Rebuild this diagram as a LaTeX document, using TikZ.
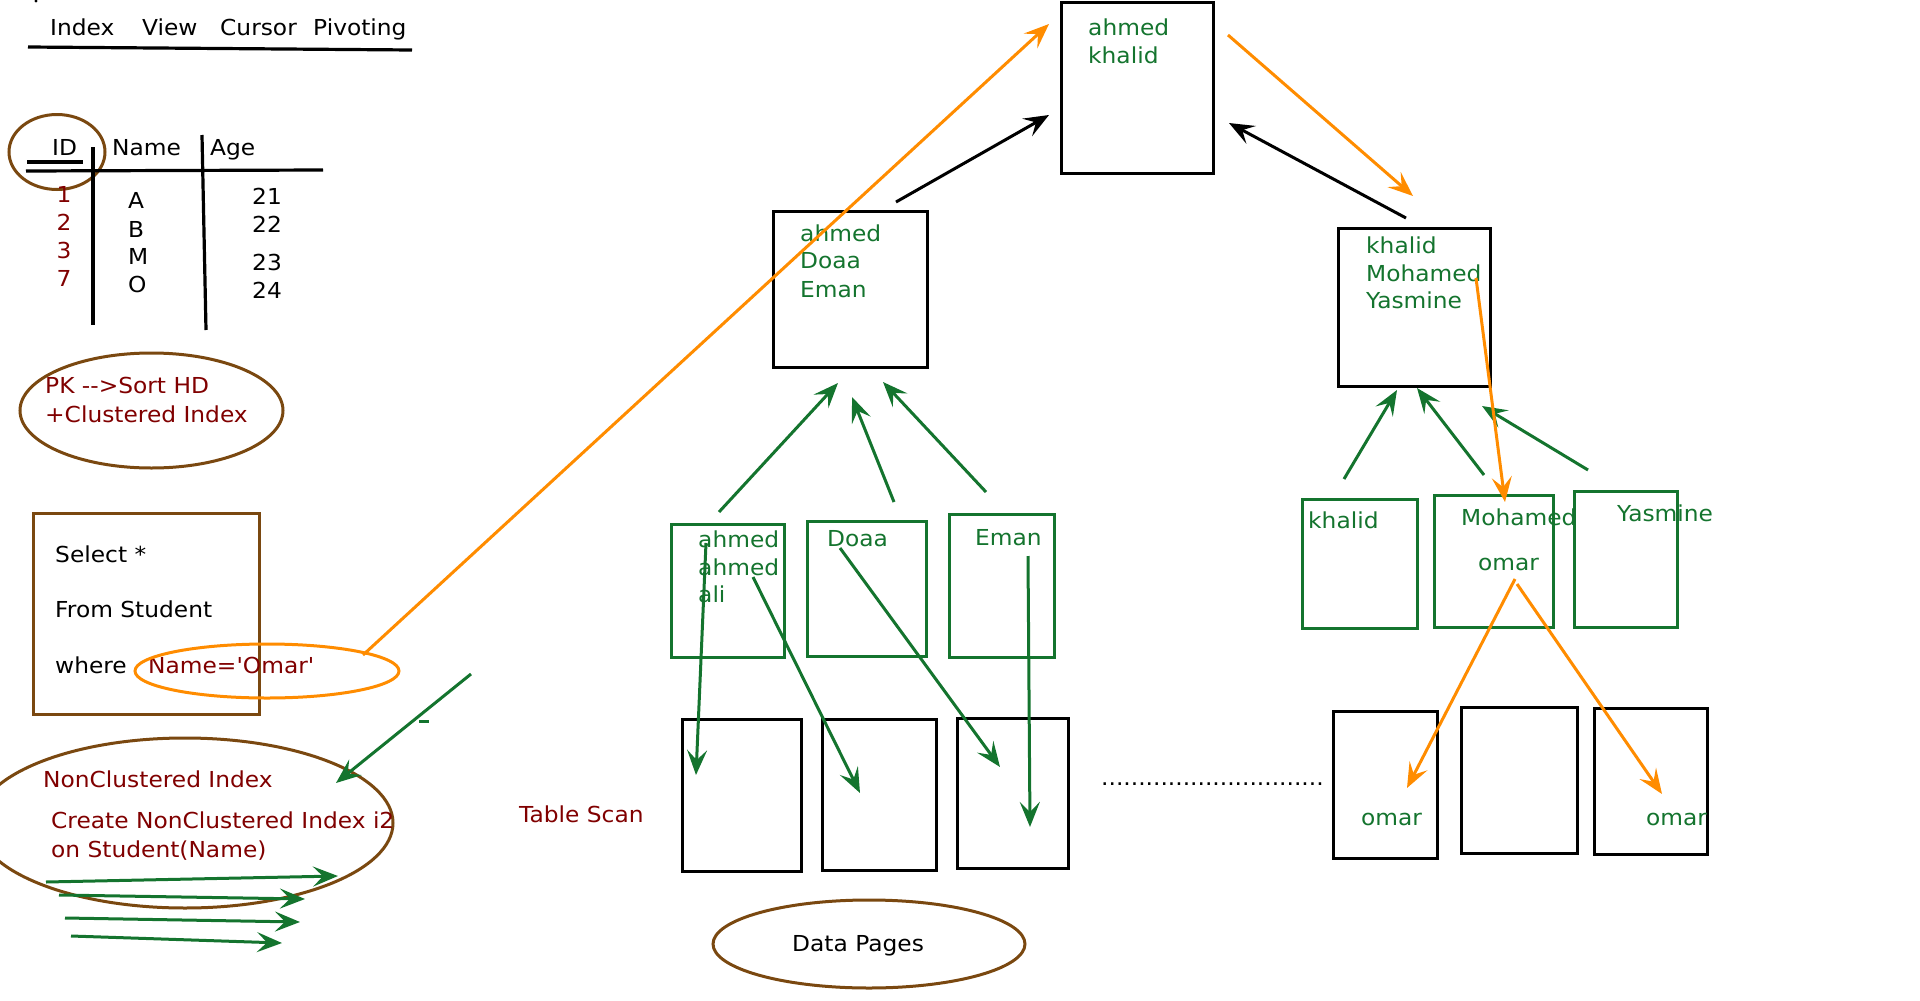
\documentclass[tikz,border=0pt]{standalone}
\usepackage{fontspec}
\newfontfamily\dejavu{DejaVu Sans}[FakeStretch=1.06]
\usetikzlibrary{arrows.meta,shapes.geometric}

\definecolor{leafgreen}{RGB}{20,116,46}
\definecolor{hiorange}{RGB}{255,140,0}
\definecolor{darkred}{RGB}{128,0,0}
\definecolor{bark}{RGB}{122,72,16}

\tikzset{
  lbl/.style={anchor=base west, inner sep=0pt, font=\dejavu\fontsize{22}{26}\selectfont},
  clbl/.style={lbl, anchor=base},
  blackbox/.style={draw=black, line width=3pt, inner sep=0pt},
  greenbox/.style={draw=leafgreen, line width=3pt, inner sep=0pt},
  ring/.style={ellipse, draw=bark, line width=3pt, inner sep=0pt},
  tip/.style={-{Stealth[length=25pt,width=20pt,inset=10pt]}},
  garrow/.style={tip, draw=leafgreen, fill=leafgreen, line width=3pt},
  oarrow/.style={tip, draw=hiorange, fill=hiorange, line width=3pt},
  karrow/.style={tip, draw=black, fill=black, line width=3pt},
  rule/.style={draw=black, line width=3.2pt}
}

\begin{document}
\begin{tikzpicture}[x=1pt,y=-1pt]
\useasboundingbox (0,0) rectangle (1920,1001);

% ---------- menu bar ----------
\fill (36,1) circle (1.6);
\node[lbl] (mIndex) at (50,35) {Index};
\node[lbl] (mView) at (142,35) {View};
\node[lbl] (mCursor) at (220,35) {Cursor};
\node[lbl] (mPivot) at (313,35) {Pivoting};
\coordinate (menuL) at (28,47);
\coordinate (menuR) at (412,50);
\draw[rule] (menuL) -- (menuR);

% ---------- Student table ----------
\node[ring, minimum width=96, minimum height=75] (idring) at (57,152) {};
\node[lbl] (hID) at (52,155) {ID};
\node[lbl] (hName) at (112,155) {Name};
\node[lbl] (hAge) at (210,155) {Age};
\coordinate (idU1) at (27,162); \coordinate (idU2) at (83,162);
\draw[rule] (idU1) -- (idU2);
\coordinate (hr1) at (26,171); \coordinate (hr2) at (323,170);
\draw[rule] (hr1) -- (hr2);
\coordinate (v1a) at (93,147); \coordinate (v1b) at (93,325);
\draw[rule] (v1a) -- (v1b);
\coordinate (v2a) at (202,135); \coordinate (v2b) at (206,330);
\draw[rule] (v2a) -- (v2b);

\node[clbl, text=darkred] (id1) at (64,202) {1};
\node[clbl, text=darkred] (id2) at (64,230) {2};
\node[clbl, text=darkred] (id3) at (64,258) {3};
\node[clbl, text=darkred] (id7) at (64,286) {7};
\node[lbl] (nA) at (128,208) {A};
\node[lbl] (nB) at (128,237) {B};
\node[lbl] (nM) at (128,264) {M};
\node[lbl] (nO) at (128,292) {O};
\node[lbl] (a21) at (252,204) {21};
\node[lbl] (a22) at (252,232) {22};
\node[lbl] (a23) at (252,270) {23};
\node[lbl] (a24) at (252,298) {24};

% ---------- PK note ----------
\node[ring, minimum width=263, minimum height=115] (pkring) at (151.5,410.5) {};
\node[lbl, text=darkred] (pk1) at (45,393) {PK -->Sort HD};
\node[lbl, text=darkred] (pk2) at (45,422) {+Clustered Index};

% ---------- query ----------
\node[draw=bark, line width=3pt, inner sep=0pt, minimum width=226, minimum height=201] (query) at (146,613.5) {};
\node[lbl] (q1) at (55,562) {Select *};
\node[lbl] (q2) at (55,617) {From Student};
\node[lbl] (q3) at (55,673) {where};
\node[lbl, text=darkred] (q4) at (148,673) {Name='Omar'};
\node[ellipse, draw=hiorange, line width=3pt, inner sep=0pt, minimum width=264, minimum height=54] (omarring) at (267,671) {};

% ---------- non clustered index note ----------
\node[ring, minimum width=416, minimum height=170] (ncring) at (185,823) {};
\node[lbl, text=darkred] (nc1) at (43,787) {NonClustered Index};
\node[lbl, text=darkred] (nc2) at (51,828) {Create NonClustered Index i2};
\node[lbl, text=darkred] (nc3) at (51,857) {on Student(Name)};
\coordinate (s1) at (46,882);  \coordinate (e1) at (338,876);
\coordinate (s2) at (59,895);  \coordinate (e2) at (305,899);
\coordinate (s3) at (65,918);  \coordinate (e3) at (300,922);
\coordinate (s4) at (71,936);  \coordinate (e4) at (282,943);
\draw[garrow] (s1) -- (e1);
\draw[garrow] (s2) -- (e2);
\draw[garrow] (s3) -- (e3);
\draw[garrow] (s4) -- (e4);
\coordinate (ncFrom) at (471,674); \coordinate (ncTo) at (336,783);
\draw[garrow] (ncFrom) -- (ncTo);
\coordinate (dashA) at (419,721); \coordinate (dashB) at (429,721);
\draw[draw=leafgreen, line width=3pt] (dashA) -- (dashB);

% ---------- B-tree: root ----------
\node[blackbox, minimum width=152, minimum height=171] (root) at (1137,87.5) {};
\node[lbl, text=leafgreen] (r1) at (1088,35) {ahmed};
\node[lbl, text=leafgreen] (r2) at (1088,63) {khalid};

% ---------- B-tree: intermediate level ----------
\node[blackbox, minimum width=154, minimum height=156] (midL) at (850,289) {};
\node[lbl, text=leafgreen] (ml1) at (800,241) {ahmed};
\node[lbl, text=leafgreen] (ml2) at (800,268) {Doaa};
\node[lbl, text=leafgreen] (ml3) at (800,297) {Eman};

\node[blackbox, minimum width=152, minimum height=158] (midR) at (1414,307) {};
\node[lbl, text=leafgreen] (mr1) at (1366,253) {khalid};
\node[lbl, text=leafgreen] (mr2) at (1366,281) {Mohamed};
\node[lbl, text=leafgreen] (mr3) at (1366,308) {Yasmine};

\coordinate (mlOut) at (896,202);  \coordinate (rootInL) at (1049,115);
\draw[karrow] (mlOut) -- (rootInL);
\coordinate (mrOut) at (1406,218); \coordinate (rootInR) at (1229,123);
\draw[karrow] (mrOut) -- (rootInR);

% ---------- leaf level (left) ----------
\node[greenbox, minimum width=113, minimum height=133] (leaf1) at (727.5,590.5) {};
\node[lbl, text=leafgreen] (l1a) at (698,547) {ahmed};
\node[lbl, text=leafgreen] (l1b) at (698,575) {ahmed};
\node[lbl, text=leafgreen] (l1c) at (698,602) {ali};
\node[greenbox, minimum width=119, minimum height=135] (leaf2) at (866.5,588.5) {};
\node[lbl, text=leafgreen] (l2a) at (827,546) {Doaa};
\node[greenbox, minimum width=105, minimum height=143] (leaf3) at (1001.5,585.5) {};
\node[lbl, text=leafgreen] (l3a) at (975,545) {Eman};

\coordinate (l1up) at (719,512);  \coordinate (mlIn1) at (838,383);
\coordinate (l2up) at (894,502);  \coordinate (mlIn2) at (852,397);
\coordinate (l3up) at (986,492);  \coordinate (mlIn3) at (883,382);
\draw[garrow] (l1up) -- (mlIn1);
\draw[garrow] (l2up) -- (mlIn2);
\draw[garrow] (l3up) -- (mlIn3);

% ---------- leaf level (right) ----------
\node[greenbox, minimum width=115, minimum height=129] (leaf4) at (1359.5,563.5) {};
\node[lbl, text=leafgreen] (l4a) at (1308,528) {khalid};
\node[greenbox, minimum width=119, minimum height=132] (leaf5) at (1493.5,561) {};
\node[lbl, text=leafgreen] (l5a) at (1461,525) {Mohamed};
\node[lbl, text=leafgreen] (l5b) at (1478,570) {omar};
\node[greenbox, minimum width=103, minimum height=136] (leaf6) at (1625.5,559) {};
\node[lbl, text=leafgreen] (l6a) at (1617,521) {Yasmine};

\coordinate (l4up) at (1344,479); \coordinate (mrIn1) at (1397,390);
\coordinate (l5up) at (1484,475); \coordinate (mrIn2) at (1417,388);
\coordinate (l6up) at (1588,470); \coordinate (mrIn3) at (1482,406);
\draw[garrow] (l4up) -- (mrIn1);
\draw[garrow] (l5up) -- (mrIn2);
\draw[garrow] (l6up) -- (mrIn3);

% ---------- data pages ----------
\node[blackbox, minimum width=119, minimum height=152] (dp1) at (741.5,795) {};
\node[blackbox, minimum width=114, minimum height=151] (dp2) at (879,794.5) {};
\node[blackbox, minimum width=111, minimum height=150] (dp3) at (1012.5,793) {};
\node[lbl] (gap) at (1101,785) {..............................};
\node[blackbox, minimum width=104, minimum height=147] (dp4) at (1385,784.5) {};
\node[blackbox, minimum width=116, minimum height=146] (dp5) at (1519,780) {};
\node[blackbox, minimum width=113, minimum height=146] (dp6) at (1650.5,781) {};
\node[lbl, text=leafgreen] (dp4t) at (1361,825) {omar};
\node[lbl, text=leafgreen] (dp6t) at (1646,825) {omar};

\coordinate (p1s) at (706,543);  \coordinate (p1e) at (696,775);
\coordinate (p2s) at (753,577);  \coordinate (p2e) at (860,793);
\coordinate (p3s) at (840,548);  \coordinate (p3e) at (1000,767);
\coordinate (p4s) at (1028,556); \coordinate (p4e) at (1030,827);
\draw[garrow] (p1s) -- (p1e);
\draw[garrow] (p2s) -- (p2e);
\draw[garrow] (p3s) -- (p3e);
\draw[garrow] (p4s) -- (p4e);

\node[lbl, text=darkred] (scan) at (519,822) {Table Scan};
\node[ring, minimum width=312, minimum height=88] (pagesring) at (869,944) {};
\node[lbl] (pages) at (792,951) {Data Pages};

% ---------- seek path ----------
\coordinate (seek0) at (363,655);  \coordinate (seek1) at (1049,24);
\draw[oarrow] (seek0) -- (seek1);
\coordinate (seek2) at (1228,35);  \coordinate (seek3) at (1413,196);
\draw[oarrow] (seek2) -- (seek3);
\coordinate (seek4) at (1476,278); \coordinate (seek5) at (1505,502);
\draw[oarrow] (seek4) -- (seek5);
\coordinate (seek6) at (1515,579); \coordinate (seek7) at (1407,788);
\draw[oarrow] (seek6) -- (seek7);
\coordinate (seek8) at (1517,584); \coordinate (seek9) at (1662,794);
\draw[oarrow] (seek8) -- (seek9);
\end{tikzpicture}
\end{document}
